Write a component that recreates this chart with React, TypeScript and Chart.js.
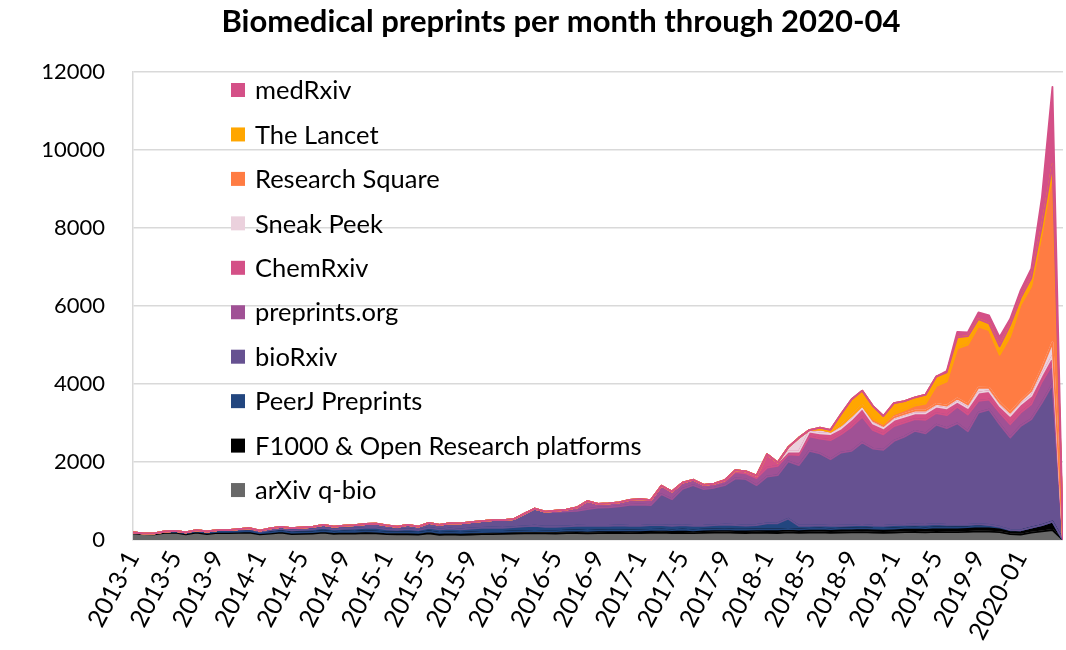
import React, { useEffect, useRef } from 'react';
import { Chart, registerables } from 'chart.js';

Chart.register(...registerables);

const months: string[] = [
  '2013-1', '2013-2', '2013-3', '2013-4', '2013-5', '2013-6', '2013-7', '2013-8', '2013-9', '2013-10', '2013-11', '2013-12',
  '2014-1', '2014-2', '2014-3', '2014-4', '2014-5', '2014-6', '2014-7', '2014-8', '2014-9', '2014-10', '2014-11', '2014-12',
  '2015-1', '2015-2', '2015-3', '2015-4', '2015-5', '2015-6', '2015-7', '2015-8', '2015-9', '2015-10', '2015-11', '2015-12',
  '2016-1', '2016-2', '2016-3', '2016-4', '2016-5', '2016-6', '2016-7', '2016-8', '2016-9', '2016-10', '2016-11', '2016-12',
  '2017-1', '2017-2', '2017-3', '2017-4', '2017-5', '2017-6', '2017-7', '2017-8', '2017-9', '2017-10', '2017-11', '2017-12',
  '2018-1', '2018-2', '2018-3', '2018-4', '2018-5', '2018-6', '2018-7', '2018-8', '2018-9', '2018-10', '2018-11', '2018-12',
  '2019-1', '2019-2', '2019-3', '2019-4', '2019-5', '2019-6', '2019-7', '2019-8', '2019-9', '2019-10', '2019-11', '2019-12',
  '2020-01', '2020-02', '2020-03', '2020-04', '2020-05',
];

// Month labels that are printed on the axis
const shownTicks: string[] = [
  '2013-1', '2013-5', '2013-9', '2014-1', '2014-5', '2014-9', '2015-1', '2015-5', '2015-9', '2016-1', '2016-5',
  '2016-9', '2017-1', '2017-5', '2017-9', '2018-1', '2018-5', '2018-9', '2019-1', '2019-5', '2019-9', '2020-01',
];

const arxivQbio: number[] = [
  173, 150, 143, 183, 190, 145, 192, 153, 182, 179, 183, 192,
  145, 163, 191, 152, 155, 163, 190, 160, 168, 165, 180, 170,
  150, 145, 145, 140, 170, 135, 142, 135, 140, 150, 150, 155,
  165, 170, 175, 170, 165, 175, 180, 170, 175, 180, 185, 175,
  180, 185, 190, 180, 185, 175, 185, 190, 195, 185, 180, 190,
  185, 180, 195, 185, 190, 195, 185, 190, 195, 200, 190, 185,
  190, 200, 205, 195, 210, 200, 200, 210, 220, 215, 200, 150,
  140, 190, 220, 256, 0,
];

const f1000: number[] = [
  20, 20, 25, 25, 25, 25, 30, 30, 30, 30, 30, 35,
  30, 35, 35, 35, 40, 40, 40, 40, 45, 45, 45, 45,
  45, 50, 50, 45, 50, 50, 55, 50, 55, 55, 60, 55,
  55, 60, 60, 60, 60, 65, 65, 65, 70, 70, 70, 70,
  70, 75, 75, 75, 80, 75, 80, 80, 85, 80, 85, 85,
  90, 90, 90, 90, 95, 95, 95, 100, 100, 105, 100, 100,
  105, 110, 110, 110, 115, 115, 120, 120, 130, 130, 120, 100,
  110, 130, 160, 214, 0,
];

const peerj: number[] = [
  0, 0, 0, 10, 20, 25, 30, 35, 40, 45, 50, 50,
  35, 55, 60, 60, 65, 70, 80, 70, 75, 80, 85, 95,
  80, 65, 85, 70, 90, 85, 95, 90, 100, 105, 110, 100,
  110, 120, 130, 110, 115, 110, 120, 125, 115, 110, 120, 115,
  110, 120, 115, 110, 115, 110, 100, 110, 115, 120, 105, 110,
  150, 160, 260, 90, 80, 85, 80, 75, 80, 85, 80, 75,
  85, 80, 80, 85, 80, 75, 70, 60, 55, 40, 20, 10,
  0, 0, 0, 0, 0,
];

const biorxiv: number[] = [
  0, 0, 0, 0, 0, 0, 0, 0, 0, 0, 15, 25,
  30, 45, 50, 55, 60, 65, 80, 75, 80, 90, 100, 110,
  100, 80, 110, 90, 130, 120, 140, 150, 165, 175, 190, 200,
  203, 320, 442, 385, 380, 382, 381, 430, 470, 480, 485, 540,
  550, 512, 794, 680, 930, 1045, 937, 960, 1010, 1195, 1190, 1020,
  1202, 1231, 1470, 1555, 1920, 1845, 1710, 1877, 1910, 2110, 1975, 1950,
  2160, 2260, 2405, 2343, 2551, 2480, 2600, 2400, 2860, 2960, 2630, 2367,
  2676, 2777, 3140, 3524, 0,
];

const preprintsOrg: number[] = [
  0, 0, 0, 0, 0, 0, 0, 0, 0, 0, 0, 0,
  0, 0, 0, 0, 0, 0, 0, 0, 0, 0, 0, 0,
  0, 0, 0, 0, 0, 0, 0, 0, 0, 0, 0, 0,
  0, 0, 0, 0, 30, 48, 89, 210, 95, 100, 105, 130,
  140, 133, 216, 200, 160, 140, 110, 90, 100, 160, 150, 180,
  230, 240, 180, 260, 370, 380, 490, 470, 620, 660, 480, 400,
  380, 360, 300, 350, 300, 330, 427, 427, 300, 257, 299, 342,
  342, 384, 540, 513, 0,
];

const chemrxiv: number[] = [
  0, 0, 0, 0, 0, 0, 0, 0, 0, 0, 0, 0,
  0, 0, 0, 0, 0, 0, 0, 0, 0, 0, 0, 0,
  0, 0, 0, 0, 0, 0, 0, 0, 0, 0, 0, 0,
  0, 0, 0, 0, 0, 0, 0, 0, 0, 0, 0, 0,
  0, 0, 0, 0, 0, 0, 0, 15, 30, 50, 50, 65,
  343, 89, 70, 85, 123, 135, 158, 151, 189, 216, 167, 154,
  157, 152, 148, 165, 163, 176, 128, 171, 214, 213, 171, 213,
  213, 214, 171, 213, 0,
];

const sneakPeek: number[] = [
  0, 0, 0, 0, 0, 0, 0, 0, 0, 0, 0, 0,
  0, 0, 0, 0, 0, 0, 0, 0, 0, 0, 0, 0,
  0, 0, 0, 0, 0, 0, 0, 0, 0, 0, 0, 0,
  0, 0, 0, 0, 0, 0, 0, 0, 0, 0, 0, 0,
  0, 0, 0, 0, 0, 0, 0, 0, 0, 0, 0, 0,
  0, 0, 115, 355, 42, 100, 60, 80, 90, 70, 70, 60,
  70, 70, 70, 70, 70, 70, 85, 85, 128, 86, 85, 86,
  86, 128, 171, 343, 0,
];

const researchSquare: number[] = [
  0, 0, 0, 0, 0, 0, 0, 0, 0, 0, 0, 0,
  0, 0, 0, 0, 0, 0, 0, 0, 0, 0, 0, 0,
  0, 0, 0, 0, 0, 0, 0, 0, 0, 0, 0, 0,
  0, 0, 0, 0, 0, 0, 0, 0, 0, 0, 0, 0,
  0, 0, 0, 0, 0, 0, 0, 0, 0, 0, 0, 0,
  0, 0, 0, 0, 0, 0, 0, 0, 0, 0, 40, 50,
  80, 100, 130, 180, 460, 620, 1283, 1539, 1570, 1480, 1225, 1950,
  2470, 2680, 3450, 4317, 0,
];

const theLancet: number[] = [
  0, 0, 0, 0, 0, 0, 0, 0, 0, 0, 0, 0,
  0, 0, 0, 0, 0, 0, 0, 0, 0, 0, 0, 0,
  0, 0, 0, 0, 0, 0, 0, 0, 0, 0, 0, 0,
  0, 0, 0, 0, 0, 0, 0, 0, 0, 0, 0, 0,
  0, 0, 0, 0, 0, 0, 0, 0, 0, 0, 0, 0,
  0, 0, 0, 0, 0, 45, 47, 287, 426, 384, 338, 206,
  283, 228, 212, 232, 241, 234, 282, 214, 188, 171, 214, 290,
  171, 214, 200, 250, 0,
];

const medrxiv: number[] = [
  0, 0, 0, 0, 0, 0, 0, 0, 0, 0, 0, 0,
  0, 0, 0, 0, 0, 0, 0, 0, 0, 0, 0, 0,
  0, 0, 0, 0, 0, 0, 0, 0, 0, 0, 0, 0,
  0, 0, 0, 0, 0, 0, 0, 0, 0, 0, 0, 0,
  0, 0, 0, 0, 0, 0, 0, 0, 0, 0, 0, 0,
  0, 0, 0, 0, 0, 0, 0, 0, 0, 0, 0, 0,
  0, 0, 0, 0, 0, 30, 143, 100, 170, 210, 240, 160,
  200, 240, 730, 1990, 0,
];

const yTicks: number[] = [0, 2000, 4000, 6000, 8000, 10000, 12000];

const titleText = 'Biomedical preprints per month through 2020-04';

const seriesNames: string[] = [
  'arXiv q-bio', 'F1000 & Open Research platforms', 'PeerJ Preprints', 'bioRxiv', 'preprints.org',
  'ChemRxiv', 'Sneak Peek', 'Research Square', 'The Lancet', 'medRxiv',
];
const seriesColors: string[] = [
  '#686868', '#000000', '#22467f', '#665191', '#a05195',
  '#d45087', '#ebd1dd', '#ff7c43', '#ffa600', '#d45087',
];
const seriesValues: number[][] = [
  arxivQbio, f1000, peerj, biorxiv, preprintsOrg, chemrxiv, sneakPeek, researchSquare, theLancet, medrxiv,
];

const FONT = 'Lato, "Open Sans", "DejaVu Sans", sans-serif';

// Stroke each area's outline (lower and upper edge) in its own colour, bottom series first,
// mimicking the spreadsheet's bordered stacked areas.
const areaBorders = {
  id: 'areaBorders',
  afterDatasetsDraw(chart: any) {
    const { ctx, chartArea } = chart;
    const yBase = chart.scales.y.getPixelForValue(0);
    ctx.save();
    ctx.beginPath();
    ctx.rect(chartArea.left, chartArea.top - 4, chartArea.right - chartArea.left, chartArea.bottom - chartArea.top + 4);
    ctx.clip();
    ctx.lineJoin = 'round';
    ctx.lineWidth = 1.8;
    const n = chart.data.datasets.length;
    for (let k = 0; k < n; k++) {
      const pts = chart.getDatasetMeta(k).data;
      ctx.strokeStyle = seriesColors[k];
      ctx.beginPath();
      if (k === 0) {
        ctx.moveTo(pts[0].x, yBase);
        ctx.lineTo(pts[pts.length - 1].x, yBase);
      } else {
        const prev = chart.getDatasetMeta(k - 1).data;
        prev.forEach((p: any, i: number) => (i === 0 ? ctx.moveTo(p.x, p.y) : ctx.lineTo(p.x, p.y)));
      }
      ctx.stroke();
      ctx.beginPath();
      pts.forEach((p: any, i: number) => (i === 0 ? ctx.moveTo(p.x, p.y) : ctx.lineTo(p.x, p.y)));
      ctx.stroke();
    }
    ctx.restore();
  },
};

// Vertical legend inside the plot (top series first) and the chart title
const insideLegend = {
  id: 'insideLegend',
  afterDraw(chart: any) {
    const { ctx } = chart;
    ctx.save();
    ctx.fillStyle = '#000000';
    ctx.font = `bold 31px ${FONT}`;
    ctx.textAlign = 'center';
    ctx.textBaseline = 'middle';
    ctx.fillText(titleText, 561, 22);

    ctx.font = `25.5px ${FONT}`;
    ctx.textBaseline = 'middle';
    ctx.textAlign = 'left';
    const n = seriesNames.length;
    for (let j = 0; j < n; j++) {
      const k = n - 1 - j;
      const cy = 90 + j * 44.45;
      ctx.fillStyle = seriesColors[k];
      ctx.fillRect(231, cy - 7, 14, 14);
      ctx.fillStyle = '#000000';
      ctx.fillText(seriesNames[k], 255, cy + 1);
    }
    ctx.restore();
  },
};

export default function App() {
  const canvasRef = useRef<HTMLCanvasElement | null>(null);

  useEffect(() => {
    if (!canvasRef.current) return;
    const chart = new Chart(canvasRef.current, {
      type: 'line',
      data: {
        labels: months,
        datasets: seriesValues.map((vals, k) => ({
          label: seriesNames[k],
          data: vals,
          backgroundColor: seriesColors[k],
          borderColor: 'rgba(0,0,0,0)',
          borderWidth: 0,
          pointRadius: 0,
          pointHoverRadius: 0,
          tension: 0,
          fill: k === 0 ? 'origin' : '-1',
        })),
      },
      options: {
        responsive: false,
        animation: false,
        events: [],
        layout: { padding: { left: 0, right: 3, top: 72, bottom: 0 } },
        plugins: {
          legend: { display: false },
          tooltip: { enabled: false },
          title: { display: false },
          filler: { drawTime: 'beforeDatasetsDraw' },
        },
        scales: {
          x: {
            type: 'category',
            offset: false,
            grid: { display: false, drawTicks: false },
            border: { display: false },
            ticks: {
              autoSkip: false,
              minRotation: 62,
              maxRotation: 62,
              padding: 6,
              color: '#000000',
              font: { family: FONT, size: 25 },
              callback: (_v: any, i: number) => (shownTicks.includes(months[i]) ? months[i] : null),
            },
            afterFit: (s: any) => {
              s.height = 110;
            },
          },
          y: {
            stacked: true,
            min: yTicks[0],
            max: yTicks[yTicks.length - 1],
            afterBuildTicks: (s: any) => {
              s.ticks = yTicks.map((v) => ({ value: v }));
            },
            grid: { color: '#d9d9d9', lineWidth: 1.5, drawTicks: false },
            border: { display: true, color: '#d9d9d9', width: 1.5 },
            ticks: {
              padding: 28,
              color: '#000000',
              font: { family: FONT, size: 22 },
              callback: (v: any) => String(v),
            },
            afterFit: (s: any) => {
              s.width = 133;
            },
          },
        },
      },
      plugins: [areaBorders, insideLegend],
    });
    return () => chart.destroy();
  }, []);

  return (
    <div style={{ position: 'fixed', left: 0, top: 0, width: 1066, height: 650, background: '#ffffff' }}>
      <canvas ref={canvasRef} width={1066} height={650} style={{ display: 'block' }} />
    </div>
  );
}
